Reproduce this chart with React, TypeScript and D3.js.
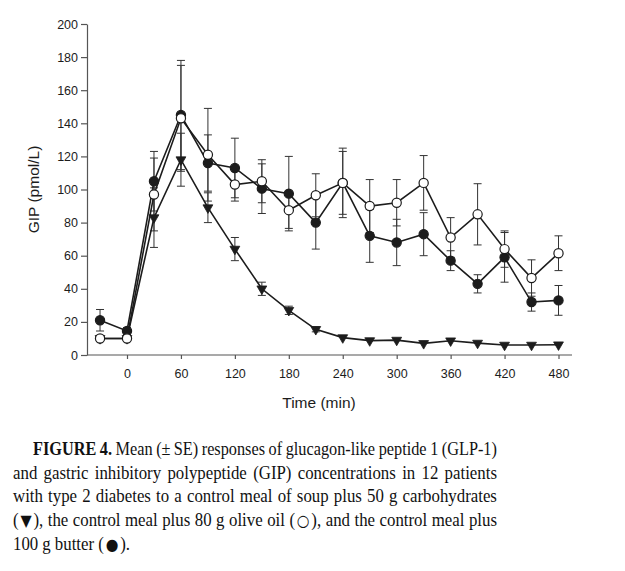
import { useEffect, useRef } from "react";
import * as d3 from "d3";

const times = [-30, 0, 30, 60, 90, 120, 150, 180, 210, 240, 270, 300, 330, 360, 390, 420, 450, 480];

// control meal (soup + 50 g carbohydrates) - filled down triangles
const carbMean = [10, 10, 83, 118, 89, 64, 40, 27, 15.5, 10.5, 8.7, 9, 7, 8.6, 7.2, 6, 6, 6.2];
const carbSE = [1.5, 1, 18, 16, 9, 7, 4, 2.5, 1.5, 1, 1, 1, 1, 1, 1, 1, 1, 1];

// control meal + 80 g olive oil - open circles
const oliveMean = [10, 10, 97, 143, 121, 103, 105, 87.5, 96.5, 104, 90, 92, 104, 71, 85, 64, 46.5, 61.5];
const oliveSE = [1, 1, 22, 32, 28, 10, 13, 11, 13, 19, 16, 14, 16.5, 12, 18.5, 11, 11, 10.5];

// control meal + 100 g butter - filled circles
const butterMean = [21, 14.5, 105, 145, 116, 113, 100.5, 97.5, 80, 104, 72, 68, 73, 57, 43, 59, 32, 33];
const butterSE = [6.5, 2, 18, 33, 17, 18, 15, 22.5, 16, 21, 16, 14, 13, 6, 5.5, 15, 5.5, 9];

const yTicks = [0, 20, 40, 60, 80, 100, 120, 140, 160, 180, 200];
const xTicks = [0, 60, 120, 180, 240, 300, 360, 420, 480];

const captionLines = [
  "FIGURE 4. Mean (±\u2009SE) responses of glucagon-like peptide 1 (GLP-1)",
  "and gastric inhibitory polypeptide (GIP) concentrations in 12 patients",
  "with type 2 diabetes to a control meal of soup plus 50 g carbohydrates",
  "(▼), the control meal plus 80 g olive oil (○), and the control meal plus",
  "100 g butter (●).",
];

const ink = "#1c1c1c";
const sans = "'Liberation Sans', Arial, Helvetica, sans-serif";
const serif = "'Liberation Serif', 'Times New Roman', serif";

export default function App() {
  const svgRef = useRef<SVGSVGElement>(null);

  useEffect(() => {
    if (!svgRef.current) return;
    const svg = d3.select(svgRef.current);
    svg.selectAll("*").remove();

    const x = d3.scaleLinear().domain([0, 480]).range([127, 558.5]);
    const y = d3.scaleLinear().domain([0, 200]).range([355, 24]);
    const axisLeftX = 87;
    const axisRight = 572;

    const g = svg.append("g");

    // y axis
    const yAxis = g
      .append("g")
      .attr("transform", `translate(${axisLeftX},0)`)
      .call(d3.axisLeft(y).tickValues(yTicks).tickSize(6).tickPadding(3).tickSizeOuter(0));
    yAxis.select(".domain").attr("stroke", "#555").attr("stroke-width", 1.2);
    yAxis.selectAll("line").attr("stroke", "#555").attr("stroke-width", 1.2);
    yAxis
      .selectAll("text")
      .attr("font-family", sans)
      .attr("font-size", 12.5)
      .attr("fill", ink);

    // x axis
    const xAxis = g
      .append("g")
      .attr("transform", `translate(0,${y(0)})`)
      .call(d3.axisBottom(x).tickValues(xTicks).tickSize(4).tickPadding(10).tickSizeOuter(0));
    xAxis.select(".domain").remove();
    xAxis.selectAll("line").attr("stroke", "#555").attr("stroke-width", 1.2);
    xAxis
      .selectAll("text")
      .attr("font-family", sans)
      .attr("font-size", 12.5)
      .attr("fill", ink);
    g.append("line")
      .attr("x1", axisLeftX)
      .attr("x2", axisRight)
      .attr("y1", y(0))
      .attr("y2", y(0))
      .attr("stroke", "#555")
      .attr("stroke-width", 1.2);

    // axis titles
    g.append("text")
      .attr("x", 319)
      .attr("y", 408)
      .attr("text-anchor", "middle")
      .attr("font-family", sans)
      .attr("font-size", 15.5)
      .attr("fill", ink)
      .text("Time (min)");

    g.append("text")
      .attr("transform", `translate(38.5,${(y(0) + y(200)) / 2}) rotate(-90)`)
      .attr("text-anchor", "middle")
      .attr("font-family", sans)
      .attr("font-size", 15.5)
      .attr("fill", ink)
      .text("GIP (pmol/L)");

    type Pt = { t: number; v: number; se: number };
    const build = (m: number[], s: number[]): Pt[] => times.map((t, i) => ({ t, v: m[i], se: s[i] }));
    const series = [
      { key: "carb", data: build(carbMean, carbSE) },
      { key: "butter", data: build(butterMean, butterSE) },
      { key: "olive", data: build(oliveMean, oliveSE) },
    ];

    const line = d3
      .line<Pt>()
      .x((d) => x(d.t))
      .y((d) => y(d.v));

    // error bars
    series.forEach((s) => {
      const eb = g.append("g").attr("stroke", "#333").attr("stroke-width", 1);
      s.data.forEach((d) => {
        if (d.se < 1.2) return;
        const cx = x(d.t);
        eb.append("line").attr("x1", cx).attr("x2", cx).attr("y1", y(d.v - d.se)).attr("y2", y(d.v + d.se));
        [d.v - d.se, d.v + d.se].forEach((v) => {
          eb.append("line").attr("x1", cx - 4).attr("x2", cx + 4).attr("y1", y(v)).attr("y2", y(v));
        });
      });
    });

    // lines
    series.forEach((s) => {
      g.append("path")
        .datum(s.data)
        .attr("fill", "none")
        .attr("stroke", ink)
        .attr("stroke-width", 1.6)
        .attr("d", line);
    });

    // markers
    const tri = d3.symbol().type(d3.symbolTriangle).size(42);
    series.forEach((s) => {
      const mg = g.append("g");
      if (s.key === "carb") {
        mg.selectAll("path")
          .data(s.data)
          .enter()
          .append("path")
          .attr("d", tri)
          .attr("transform", (d) => `translate(${x(d.t)},${y(d.v)}) rotate(180)`)
          .attr("fill", ink)
          .attr("stroke", ink)
          .attr("stroke-width", 0.8);
      } else {
        mg.selectAll("circle")
          .data(s.data)
          .enter()
          .append("circle")
          .attr("cx", (d) => x(d.t))
          .attr("cy", (d) => y(d.v))
          .attr("r", 4.6)
          .attr("fill", s.key === "olive" ? "#fff" : ink)
          .attr("stroke", ink)
          .attr("stroke-width", 1.2);
      }
    });

    // caption, justified by word spacing
    const cap = svg.append("g").attr("font-family", serif).attr("font-size", 18.5).attr("fill", "#111");
    const baselines = [455, 478.5, 502, 526, 549.5];
    const left = 13;
    const right = 497;
    const squeeze = 0.91;
    const minGap = 4;
    captionLines.forEach((ln, li) => {
      const words = ln.split(" ");
      const startX = li === 0 ? 33 : left;
      const lg = cap.append("g");
      const extra: number[] = [];
      const nodes = words.map((w, wi) => {
        const t = lg.append("text").attr("font-weight", li === 0 && wi < 2 ? "bold" : "normal");
        let pad = 0;
        let afterSym = false;
        w.split(/([▼○●])/).forEach((part) => {
          if (!part) return;
          const sp = t.append("tspan").text(part);
          if (/[▼○●]/.test(part)) {
            sp.attr("font-family", "'DejaVu Sans', sans-serif")
              .attr("font-size", 16)
              .attr("dx", 2);
            pad += 2;
            afterSym = true;
          } else if (afterSym) {
            sp.attr("dx", 2);
            pad += 2;
            afterSym = false;
          }
        });
        extra.push(pad);
        return t;
      });
      const widths = nodes.map((n, i) => (n.node() as SVGTextElement).getComputedTextLength() + extra[i]);
      const total = d3.sum(widths);
      const last = li === captionLines.length - 1;
      const avail = (right - startX) / squeeze;
      let sx = squeeze;
      let gap = 4.5;
      if (!last && words.length > 1) {
        gap = (avail - total) / (words.length - 1);
        if (gap < minGap) {
          gap = minGap;
          sx = (right - startX) / (total + minGap * (words.length - 1));
        }
      }
      let cx = 0;
      nodes.forEach((n, i) => {
        n.attr("x", cx);
        cx += widths[i] + gap;
      });
      lg.attr("transform", `translate(${startX},${baselines[li]}) scale(${sx},1)`);
    });
  }, []);

  return (
    <svg
      ref={svgRef}
      width={625}
      height={571}
      style={{ position: "absolute", left: 0, top: 0, background: "#fff" }}
    />
  );
}
